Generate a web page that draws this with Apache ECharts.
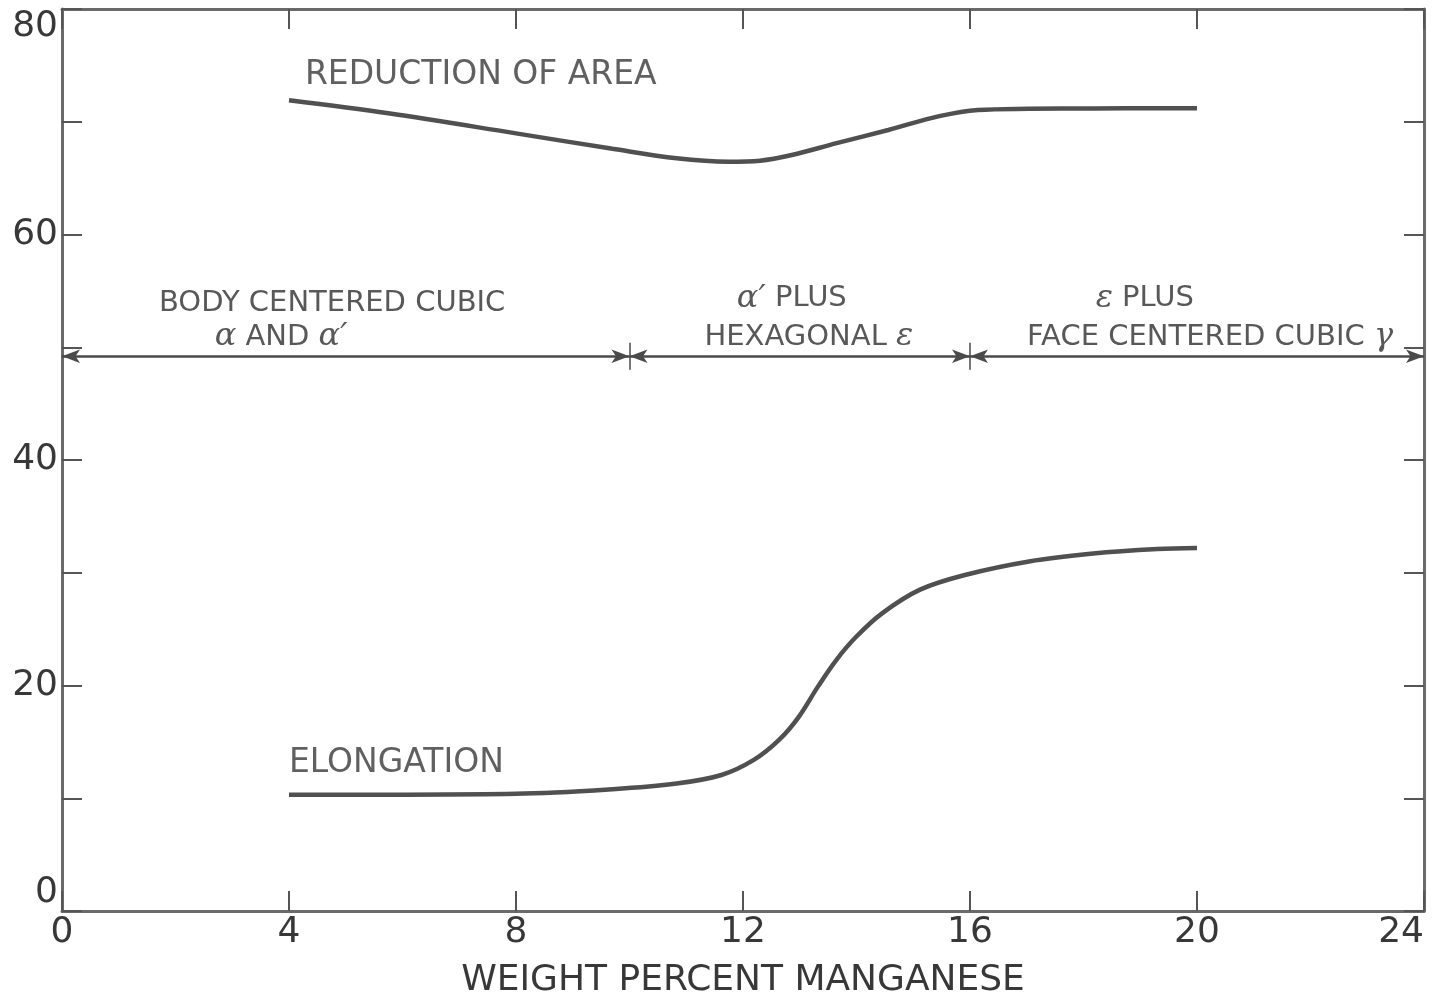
<!DOCTYPE html>
<html>
<head>
<meta charset="utf-8">
<script src="https://cdn.jsdelivr.net/npm/echarts@6/dist/echarts.min.js"></script>
<style>
  html, body { margin: 0; padding: 0; background: #fff; }
  #chart { width: 1439px; height: 997px; }
</style>
</head>
<body>
<div id="chart"></div>
<script>
// Tensile ductility of Fe-Mn alloys versus manganese content
const reductionX = [4.0, 5.75, 8.0, 9.7, 10.83, 11.74, 12.3, 12.86, 13.65, 14.56, 15.46, 16.14, 17.04, 18.17, 19.3, 20.0];
const reductionY = [71.9, 70.75, 68.97, 67.6, 66.76, 66.46, 66.55, 67.05, 68.1, 69.27, 70.5, 71.05, 71.15, 71.18, 71.2, 71.2];

const elongationX = [4.0, 8.0, 9.7, 10.83, 11.62, 12.19, 12.64, 12.98, 13.32, 13.65, 13.99, 14.45, 15.12, 15.91, 17.04, 18.17, 19.3, 20.0];
const elongationY = [10.3, 10.4, 10.8, 11.3, 12.06, 13.4, 15.2, 17.2, 19.9, 22.3, 24.3, 26.4, 28.5, 29.8, 31.0, 31.7, 32.1, 32.2];

// Phase field boundaries (wt% Mn) and the level of the arrow bar
const phaseBounds = [0, 10, 16, 24];
const phaseLevel = 49.2;

const xTicks = [0, 4, 8, 12, 16, 20, 24];
const yTickLabels = [0, 20, 40, 60, 80];

// Text annotations anchored in data coordinates
const curveLabels = [
  { text: 'REDUCTION OF AREA', x: 4.28, y: 74.1 },
  { text: 'ELONGATION', x: 4.0, y: 13.1 }
];
const phaseLabels = [
  { text: 'BODY CENTERED CUBIC', x: 4.76, y: 53.9 },
  { text: '{g|α} AND {g|α′}', x: 3.86, y: 50.9 },
  { text: '{g|α′} PLUS', x: 12.86, y: 54.3 },
  { text: 'HEXAGONAL {g|ε}', x: 13.16, y: 50.9 },
  { text: '{g|ε} PLUS', x: 19.08, y: 54.3 },
  { text: 'FACE CENTERED CUBIC {g|γ}', x: 20.23, y: 50.9 }
];

const INK = '#383838';
const FONT = 'DejaVu Sans';

const zip = (xs, ys) => xs.map((x, i) => [x, ys[i]]);

const arrowSegments = [];
for (let i = 0; i < phaseBounds.length - 1; i++) {
  arrowSegments.push([{ coord: [phaseBounds[i], phaseLevel] }, { coord: [phaseBounds[i + 1], phaseLevel] }]);
}
const crossTicks = phaseBounds.slice(1, -1).map(b => [
  { coord: [b, phaseLevel - 1.2] }, { coord: [b, phaseLevel + 1.2] }
]);

const axisLineStyle = { color: '#6a6a6a', width: 3 };
const tickStyle = { color: '#555', width: 2 };

const chart = echarts.init(document.getElementById('chart'), null, { renderer: 'canvas' });
chart.setOption({
  animation: false,
  backgroundColor: '#fff',
  grid: { left: 62, right: 15, top: 9, bottom: 86, outerBoundsMode: 'none', containLabel: false },
  xAxis: [
    {
      type: 'value', min: 0, max: 24, interval: 4,
      axisLine: { show: true, onZero: false, lineStyle: axisLineStyle },
      axisTick: { show: true, inside: true, length: 20, lineStyle: tickStyle },
      axisLabel: {
        margin: 4, fontFamily: FONT, fontSize: 36, color: INK,
        alignMaxLabel: 'right',
        formatter: v => xTicks.includes(v) ? String(v) : ''
      },
      splitLine: { show: false },
      name: 'WEIGHT PERCENT MANGANESE',
      nameLocation: 'middle', nameGap: 52,
      nameTextStyle: { fontFamily: FONT, fontSize: 36, color: INK }
    },
    {
      type: 'value', position: 'top', min: 0, max: 24, interval: 4,
      axisLine: { show: true, onZero: false, lineStyle: axisLineStyle },
      axisTick: { show: true, inside: true, length: 20, lineStyle: tickStyle },
      axisLabel: { show: false }, splitLine: { show: false }
    }
  ],
  yAxis: [
    {
      type: 'value', min: 0, max: 80, interval: 10,
      axisLine: { show: true, onZero: false, lineStyle: axisLineStyle },
      axisTick: { show: true, inside: true, length: 20, lineStyle: tickStyle },
      axisLabel: {
        margin: 4, fontFamily: FONT, fontSize: 36, color: INK,
        verticalAlignMaxLabel: 'top', verticalAlignMinLabel: 'bottom',
        formatter: v => yTickLabels.includes(v) ? String(v) : ''
      },
      splitLine: { show: false }
    },
    {
      type: 'value', position: 'right', min: 0, max: 80, interval: 10,
      axisLine: { show: true, onZero: false, lineStyle: axisLineStyle },
      axisTick: { show: true, inside: true, length: 20, lineStyle: tickStyle },
      axisLabel: { show: false }, splitLine: { show: false }
    }
  ],
  series: [
    {
      name: 'Reduction of area', type: 'line', smooth: 0.35, symbol: 'none',
      data: zip(reductionX, reductionY),
      lineStyle: { color: '#505050', width: 4.5 }
    },
    {
      name: 'Elongation', type: 'line', smooth: 0.35, symbol: 'none',
      data: zip(elongationX, elongationY),
      lineStyle: { color: '#505050', width: 4.5 }
    },
    {
      name: 'Phase fields', type: 'line', data: [], symbol: 'none',
      markLine: {
        silent: true, animation: false,
        symbol: ['arrow', 'arrow'], symbolSize: [10, 18],
        label: { show: false },
        lineStyle: { color: '#4a4a4a', width: 2.5, type: 'solid' },
        data: arrowSegments
      }
    },
    {
      name: 'Phase boundaries', type: 'line', data: [], symbol: 'none',
      markLine: {
        silent: true, animation: false, symbol: ['none', 'none'],
        label: { show: false },
        lineStyle: { color: '#4a4a4a', width: 1.5, type: 'solid' },
        data: crossTicks
      }
    },
    {
      name: 'Curve labels', type: 'scatter', symbolSize: 0, silent: true,
      data: curveLabels.map(l => ({ value: [l.x, l.y], name: l.text })),
      label: {
        show: true, position: 'inside', align: 'left', verticalAlign: 'middle',
        formatter: p => p.name, fontFamily: FONT, fontSize: 33, color: INK
      }
    },
    {
      name: 'Phase labels', type: 'scatter', symbolSize: 0, silent: true,
      data: phaseLabels.map(l => ({ value: [l.x, l.y], name: l.text })),
      label: {
        show: true, position: 'inside', align: 'center', verticalAlign: 'middle',
        formatter: p => p.name, fontFamily: FONT, fontSize: 29, color: '#2e2e2e',
        rich: {
          g: { fontFamily: 'DejaVu Serif', fontStyle: 'italic', fontSize: 32, color: '#2e2e2e' }
        }
      }
    }
  ]
});
</script>
</body>
</html>
